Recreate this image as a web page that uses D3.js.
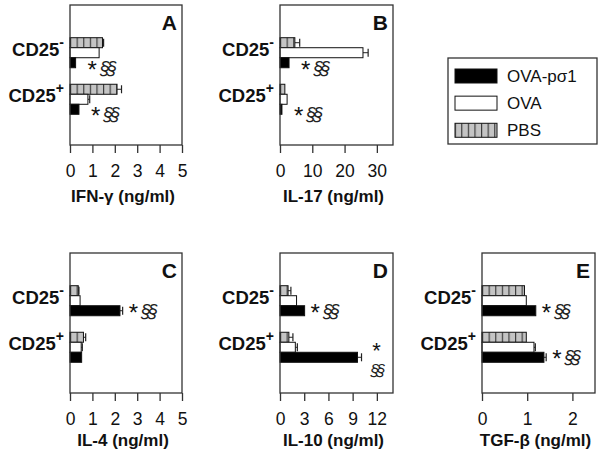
<!DOCTYPE html>
<html><head><meta charset="utf-8">
<script src="https://cdn.jsdelivr.net/npm/d3@7"></script>
<style>
body{margin:0;background:#fff;}
svg{display:block;font-family:"Liberation Sans",Arial,sans-serif;}
</style></head>
<body><div id="chart"></div>
<script>
// ---- data ----
const groups = ["CD25-", "CD25+"];
const series = ["PBS", "OVA", "OVA-pσ1"];
const legendOrder = ["OVA-pσ1", "OVA", "PBS"];

const panelIds = ["A", "B", "C", "D", "E"];
const panelTitles = ["IFN-γ (ng/ml)", "IL-17 (ng/ml)", "IL-4 (ng/ml)", "IL-10 (ng/ml)", "TGF-β (ng/ml)"];
const panelMax = [5, 35, 5, 14, 2.5];
const tickA = [0, 1, 2, 3, 4, 5];
const tickB = [0, 10, 20, 30];
const tickC = [0, 1, 2, 3, 4, 5];
const tickD = [0, 3, 6, 9, 12];
const tickE = [0, 1, 2];

// values per panel: [CD25-, CD25+]
const pbsA = [1.45, 2.1],  pbsErrA = [0.05, 0.2];
const ovaA = [1.3, 0.8],   ovaErrA = [0, 0.08];
const pslA = [0.25, 0.4],  pslErrA = [0, 0];

const pbsB = [4.6, 1.5],   pbsErrB = [1.5, 0];
const ovaB = [25.7, 2.2],  ovaErrB = [1.6, 0];
const pslB = [2.8, 0.6],   pslErrB = [0, 0];

const pbsC = [0.37, 0.6],  pbsErrC = [0.03, 0.1];
const ovaC = [0.45, 0.5],  ovaErrC = [0, 0.05];
const pslC = [2.23, 0.52], pslErrC = [0.12, 0];

const pbsD = [1.0, 1.1],   pbsErrD = [0.35, 0.5];
const ovaD = [2.05, 1.9],  ovaErrD = [0, 0.25];
const pslD = [3.05, 9.6],  pslErrD = [0, 0.5];

const pbsE = [0.94, 0.98], pbsErrE = [0, 0];
const ovaE = [0.98, 1.15], ovaErrE = [0, 0.03];
const pslE = [1.19, 1.37], pslErrE = [0, 0.05];

// significance marks: panel, group, layout
const sigPanel = ["A", "A", "B", "B", "C", "D", "D", "E", "E"];
const sigGroup = ["CD25-", "CD25+", "CD25-", "CD25+", "CD25-", "CD25-", "CD25+", "CD25-", "CD25+"];
const sigStack = [false, false, false, false, false, false, true, false, false];

// ---- build ----
const vals = {
  A: {PBS: pbsA, OVA: ovaA, "OVA-pσ1": pslA}, B: {PBS: pbsB, OVA: ovaB, "OVA-pσ1": pslB},
  C: {PBS: pbsC, OVA: ovaC, "OVA-pσ1": pslC}, D: {PBS: pbsD, OVA: ovaD, "OVA-pσ1": pslD},
  E: {PBS: pbsE, OVA: ovaE, "OVA-pσ1": pslE}
};
const errs = {
  A: {PBS: pbsErrA, OVA: ovaErrA, "OVA-pσ1": pslErrA}, B: {PBS: pbsErrB, OVA: ovaErrB, "OVA-pσ1": pslErrB},
  C: {PBS: pbsErrC, OVA: ovaErrC, "OVA-pσ1": pslErrC}, D: {PBS: pbsErrD, OVA: ovaErrD, "OVA-pσ1": pslErrD},
  E: {PBS: pbsErrE, OVA: ovaErrE, "OVA-pσ1": pslErrE}
};
const ticks = {A: tickA, B: tickB, C: tickC, D: tickD, E: tickE};

const W = 602, H = 464;
const svg = d3.select("#chart").append("svg").attr("width", W).attr("height", H);

const defs = svg.append("defs");
const pat = defs.append("pattern").attr("id", "stripes").attr("patternUnits", "userSpaceOnUse")
  .attr("width", 6.6).attr("height", 10);
pat.append("rect").attr("width", 6.6).attr("height", 10).attr("fill", "#c4c4c4");
pat.append("line").attr("x1", 0.6).attr("x2", 0.6).attr("y1", 0).attr("y2", 10)
  .attr("stroke", "#333").attr("stroke-width", 1.1);

const fills = {"PBS": "url(#stripes)", "OVA": "#fff", "OVA-pσ1": "#000"};

const layout = {
  A: {x: 70, y: 5, w: 112, h: 140, row: 0},
  B: {x: 280, y: 5, w: 113, h: 140, row: 0},
  C: {x: 70, y: 253, w: 112, h: 140, row: 1},
  D: {x: 280, y: 253, w: 113, h: 140, row: 1},
  E: {x: 482, y: 253, w: 113, h: 140, row: 1}
};

const scales = {};
panelIds.forEach((id, i) => {
  const L = layout[id];
  const g = svg.append("g").attr("transform", `translate(${L.x},${L.y})`);
  const x = d3.scaleLinear().domain([0, panelMax[i]]).range([0, L.w]);
  const yG = d3.scaleBand().domain(groups).range([32.7, 109.3]).paddingInner(0.355);
  const yS = d3.scaleBand().domain(series).range([0, yG.bandwidth()]);
  scales[id] = {x, yG, yS, g};

  // bars
  groups.forEach((grp, gi) => {
    series.forEach(s => {
      const v = vals[id][s][gi], e = errs[id][s][gi];
      const y0 = yG(grp) + yS(s), bh = yS.bandwidth();
      if (e > 0) {
        const yc = y0 + bh / 2;
        g.append("line").attr("x1", x(v)).attr("x2", x(v + e)).attr("y1", yc).attr("y2", yc)
          .attr("stroke", "#222").attr("stroke-width", 1);
        g.append("line").attr("x1", x(v + e)).attr("x2", x(v + e)).attr("y1", yc - bh * 0.4).attr("y2", yc + bh * 0.4)
          .attr("stroke", "#222").attr("stroke-width", 1.2);
      }
      g.append("rect").attr("x", x(0)).attr("y", y0).attr("width", x(v) - x(0)).attr("height", bh)
        .attr("fill", fills[s]).attr("stroke", "#111").attr("stroke-width", 1);
    });
  });

  // frame
  g.append("rect").attr("x", 0).attr("y", 0).attr("width", L.w).attr("height", L.h)
    .attr("fill", "none").attr("stroke", "#333").attr("stroke-width", 1.3);

  // axis
  const ax = g.append("g").attr("transform", `translate(0,${L.h})`)
    .call(d3.axisBottom(x).tickValues(ticks[id]).tickFormat(d3.format("d"))
      .tickSize(8).tickSizeOuter(0).tickPadding(12));
  ax.select(".domain").remove();
  ax.selectAll("line").attr("stroke", "#333").attr("stroke-width", 1.3);
  ax.selectAll("text").attr("font-size", 17.5).attr("fill", "#111").attr("font-family", "Liberation Sans, Arial, sans-serif");

  // title
  g.append("text").attr("x", L.w / 2 - 3).attr("y", L.h + (L.row === 0 ? 57 : 53))
    .attr("text-anchor", "middle").attr("font-size", 17).attr("font-weight", "bold").attr("fill", "#111")
    .text(panelTitles[i]);

  // panel letter
  g.append("text").attr("x", L.w - 5).attr("y", 25).attr("text-anchor", "end")
    .attr("font-size", 21).attr("font-weight", "bold").attr("fill", "#111").text(id);

  // group labels
  groups.forEach(grp => {
    const t = g.append("text").attr("x", -6).attr("y", yG(grp) + yG.bandwidth() / 2 + 3)
      .attr("text-anchor", "end").attr("font-size", 18.5).attr("font-weight", "bold").attr("fill", "#111");
    t.append("tspan").text("CD25");
    t.append("tspan").attr("dy", -9).attr("font-size", 14).text(grp.endsWith("-") ? "-" : "+");
  });
});

// significance marks
sigPanel.forEach((id, k) => {
  const {x, yG, yS, g} = scales[id];
  const L = layout[id];
  const grp = sigGroup[k], gi = groups.indexOf(grp);
  const s = "OVA-pσ1";
  const end = x(vals[id][s][gi] + errs[id][s][gi]);
  const yc = yG(grp) + yS(s) + yS.bandwidth() / 2;
  if (sigStack[k]) {
    g.append("text").attr("x", end + 15).attr("y", yc + 1).attr("text-anchor", "middle")
      .attr("font-size", 22).attr("fill", "#111").text("*");
    g.append("text").attr("x", end + 15).attr("y", yc + 19).attr("text-anchor", "middle")
      .attr("font-size", 16).attr("font-style", "italic").attr("letter-spacing", -3).attr("fill", "#222").text("§§");
  } else {
    const dx = L.row === 0 ? 18 : 12;
    const dy = L.row === 0 ? 5 : 0;
    const t = g.append("text").attr("x", end + dx - 6).attr("y", yc + dy + 10).attr("fill", "#111");
    t.append("tspan").attr("font-size", 24).text("*");
    t.append("tspan").attr("dx", 3).attr("dy", -4).attr("font-size", 18)
      .attr("font-style", "italic").attr("letter-spacing", -3).attr("fill", "#222").text("§§");
  }
});

// legend
const lg = svg.append("g").attr("transform", "translate(448,58)");
lg.append("rect").attr("width", 149).attr("height", 86).attr("fill", "#fff")
  .attr("stroke", "#333").attr("stroke-width", 1.3);
const ly = d3.scaleBand().domain(legendOrder).range([8, 84]).paddingInner(0.2);
legendOrder.forEach(s => {
  lg.append("rect").attr("x", 7).attr("y", ly(s) + 3).attr("width", 42).attr("height", 14)
    .attr("fill", fills[s]).attr("stroke", "#111").attr("stroke-width", 1);
  lg.append("text").attr("x", 59).attr("y", ly(s) + 16).attr("font-size", 17).attr("fill", "#111").text(s);
});
</script>
</body></html>
